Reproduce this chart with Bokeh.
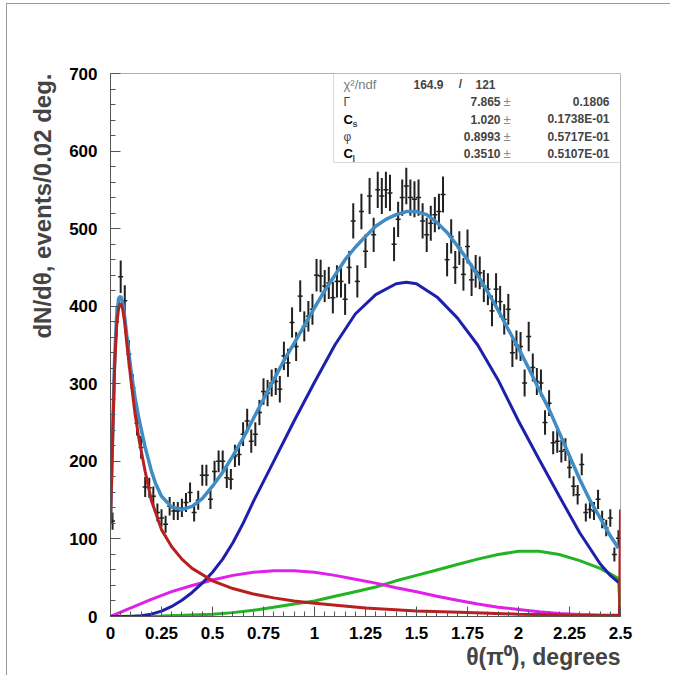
import numpy as np
from bokeh.plotting import figure
from bokeh.models import (ColumnDataSource, FixedTicker, Title, BoxAnnotation,
                          Label, Range1d)
from bokeh.embed import file_html
from bokeh.resources import INLINE

# ---------------- data ----------------
bin_width = 0.02
counts = [123, 380, 438, 407, 338, 295, 249, 218, 167, 166,
          155, 134, 127, 119, 142, 136, 136, 140, 147, 160,
          134, 150, 182, 182, 151, 187, 200, 200, 179, 177,
          207, 209, 235, 252, 226, 235, 263, 290, 288, 301,
          303, 293, 336, 327, 379, 348, 413, 374, 387, 396,
          440, 439, 426, 430, 411, 432, 432, 409, 450, 510,
          432, 522, 471, 542, 492, 550, 542, 550, 546, 480,
          512, 540, 555, 540, 538, 540, 510, 492, 507, 518,
          522, 544, 460, 490, 450, 475, 441, 477, 434, 445,
          443, 426, 422, 394, 422, 406, 383, 396, 340, 350,
          348, 301, 361, 321, 303, 301, 250, 275, 224, 226,
          213, 215, 192, 168, 157, 196, 134, 138, 136, 151,
          125, 114, 127, 80, 101]
theta = [round(bin_width / 2 + bin_width * i, 3) for i in range(len(counts))]
errors = np.sqrt(np.array(counts, dtype=float))  # Poisson error bars of the histogram

total_x = [0, 0.01, 0.02, 0.03, 0.04, 0.05, 0.06, 0.07, 0.08, 0.1, 0.12, 0.14, 0.17, 0.2,
           0.22, 0.25, 0.3, 0.35, 0.4, 0.45, 0.5, 0.55, 0.6, 0.65, 0.7, 0.75, 0.8, 0.85,
           0.9, 0.95, 1.0, 1.05, 1.1, 1.15, 1.2, 1.25, 1.3, 1.35, 1.4, 1.45, 1.5, 1.55,
           1.6, 1.65, 1.7, 1.75, 1.8, 1.85, 1.9, 1.95, 2.0, 2.05, 2.1, 2.15, 2.2, 2.25,
           2.3, 2.35, 2.4, 2.45, 2.49]
total_y = [125, 230, 330, 386, 410, 413, 404, 385, 362, 318, 283, 254, 218, 188,
           172, 155, 141, 138, 142, 152, 168, 186, 207, 230, 255, 280, 305, 330,
           352, 375, 398, 420, 440, 460, 476, 490, 503, 512, 518, 522, 522, 518,
           508, 495, 478, 460, 440, 418, 395, 370, 346, 320, 293, 267, 237, 207,
           177, 150, 127, 104, 88]

red_x = [0, 0.01, 0.02, 0.03, 0.04, 0.05, 0.06, 0.07, 0.08, 0.1, 0.12, 0.14, 0.17, 0.2,
         0.25, 0.3, 0.35, 0.4, 0.5, 0.6, 0.7, 0.8, 0.9, 1.0, 1.25, 1.5, 1.75, 2.0,
         2.25, 2.495, 2.5]
red_y = [120, 225, 320, 375, 398, 404, 396, 378, 352, 305, 262, 228, 187, 150,
         112, 90, 74, 62, 46, 36, 29, 24, 20, 17, 11, 7, 5, 3, 2, 1.5, 138]

blue_x = [0, 0.1, 0.15, 0.2, 0.25, 0.3, 0.35, 0.4, 0.45, 0.5, 0.55, 0.6, 0.65, 0.7,
          0.8, 0.9, 1.0, 1.1, 1.2, 1.3, 1.4, 1.45, 1.5, 1.6, 1.7, 1.8, 1.9, 2.0,
          2.1, 2.2, 2.3, 2.4, 2.45, 2.49]
blue_y = [0, 0, 1, 3, 7, 13, 21, 31, 43, 57, 74, 95, 120, 148,
          200, 252, 302, 350, 390, 415, 429, 431, 429, 412, 385, 350, 305, 252,
          203, 155, 108, 68, 53, 44]

magenta_x = [0, 0.1, 0.2, 0.3, 0.4, 0.5, 0.6, 0.7, 0.8, 0.9, 1.0, 1.1, 1.2, 1.3,
             1.4, 1.5, 1.6, 1.7, 1.8, 1.9, 2.0, 2.1, 2.2, 2.3, 2.4, 2.5]
magenta_y = [0, 11, 22, 32, 40, 47, 53, 57, 59, 59, 57, 53, 48, 43,
             37, 32, 26, 21, 16, 12, 9, 6, 4, 2.5, 1.5, 1]

green_x = [0, 0.25, 0.5, 0.6, 0.7, 0.8, 0.9, 1.0, 1.1, 1.2, 1.3, 1.4, 1.5, 1.6,
           1.7, 1.8, 1.9, 2.0, 2.1, 2.2, 2.3, 2.4, 2.45, 2.49, 2.5]
green_y = [0, 0.5, 3, 5, 8, 12, 16, 20, 26, 32, 38, 46, 53, 60,
           67, 74, 80, 84, 84, 80, 72, 62, 55, 49, 0]

x_ticks = [0, 0.25, 0.5, 0.75, 1.0, 1.25, 1.5, 1.75, 2.0, 2.25, 2.5]
x_tick_labels = ["0", "0.25", "0.5", "0.75", "1", "1.25", "1.5", "1.75", "2", "2.25", "2.5"]
y_ticks = [0, 100, 200, 300, 400, 500, 600, 700]
y_tick_labels = ["0", "100", "200", "300", "400", "500", "600", "700"]

stat_names = ["Γ", "C", "φ", "C"]
stat_subs = ["", "s", "", "l"]
stat_values = ["7.865", "1.020", "0.8993", "0.3510"]
stat_errors = ["0.1806", "0.1738E-01", "0.5717E-01", "0.5107E-01"]
chi2_text, ndf_text = "164.9", "121"

# ---------------- figure ----------------
FONT = "Liberation Sans"
p = figure(width=664, height=672, x_range=Range1d(0, 2.5), y_range=Range1d(0, 700),
           min_border_left=103, min_border_right=51, min_border_top=69, min_border_bottom=60,
           output_backend="svg", toolbar_location=None)
p.styles = {"margin-left": "6px", "margin-top": "3px",
            "border-top": "1px solid #9a9a9a", "border-left": "1px solid #9a9a9a"}
p.xgrid.visible = False
p.ygrid.visible = False
p.outline_line_color = "#b0b0b0"
p.outline_line_width = 1
p.background_fill_color = "white"
p.border_fill_color = "white"

minor_x = [round(0.05 * i, 2) for i in range(51)]
minor_y = [20 * i for i in range(36)]
p.xaxis.ticker = FixedTicker(ticks=x_ticks, minor_ticks=minor_x)
p.yaxis.ticker = FixedTicker(ticks=y_ticks, minor_ticks=minor_y)
p.xaxis.major_label_overrides = {t: l for t, l in zip(x_ticks, x_tick_labels)}
p.yaxis.major_label_overrides = {t: l for t, l in zip(y_ticks, y_tick_labels)}

for ax in (p.xaxis[0], p.yaxis[0]):
    ax.axis_line_color = "#555555"
    ax.major_tick_line_color = "#555555"
    ax.minor_tick_line_color = "#555555"
    ax.major_tick_in = 10
    ax.major_tick_out = 0
    ax.minor_tick_in = 5
    ax.minor_tick_out = 0
    ax.major_label_text_font = FONT
    ax.major_label_text_font_style = "bold"
    ax.major_label_text_font_size = "17px"
    ax.major_label_text_color = "black"
p.xaxis.major_label_standoff = 10
p.yaxis.major_label_standoff = 13

ytitle = Title(text="dN/dθ, events/0.02 deg.", align="right", text_font=FONT,
               text_font_size="24px", text_font_style="bold", standoff=21)
p.add_layout(ytitle, "left")
xtitle = Title(text="θ(π⁰), degrees", align="right", text_font=FONT,
               text_font_size="23px", text_font_style="bold", standoff=0)
p.add_layout(xtitle, "below")

# ---------------- data points ----------------
cnt = np.array(counts, dtype=float)
src = ColumnDataSource(dict(x=theta, y=cnt, lo=cnt - errors, hi=cnt + errors))
p.segment(x0="x", y0="lo", x1="x", y1="hi", source=src, line_color="#202020", line_width=2)
p.scatter(x="x", y="y", source=src, marker="dash", size=5, line_color="#202020", line_width=1.5)

# ---------------- fit curves ----------------
p.line(total_x, total_y, line_color="#3f8dc4", line_width=3.5)
p.line(green_x, green_y, line_color="#22b422", line_width=3)
p.line(magenta_x, magenta_y, line_color="#e020e8", line_width=3)
p.line(blue_x, blue_y, line_color="#1f1fae", line_width=3)
p.line(red_x, red_y, line_color="#b82020", line_width=3)

# ---------------- statistics box ----------------
def px_to_x(px):
    return (px - 110) / 204.0

def py_to_y(py):
    return (617 - py) / (543.0 / 700.0)

p.add_layout(BoxAnnotation(left=px_to_x(333), right=2.5, bottom=py_to_y(163), top=700,
                           fill_color="white", fill_alpha=1.0,
                           line_color="#808080", line_width=1))

row_py = [102, 119.5, 137, 154]
p.add_layout(Label(x=px_to_x(343), y=py_to_y(84.5), text="χ²/ndf", text_font=FONT,
                   text_font_size="13px", text_color="#7a7a7a", text_baseline="middle"))
p.add_layout(Label(x=px_to_x(413), y=py_to_y(84.5), text=chi2_text, text_font=FONT,
                   text_font_size="12px", text_font_style="bold", text_baseline="middle"))
p.add_layout(Label(x=px_to_x(460), y=py_to_y(84.5), text="/", text_font=FONT,
                   text_font_size="12px", text_font_style="bold", text_baseline="middle",
                   text_align="center"))
p.add_layout(Label(x=px_to_x(475), y=py_to_y(84.5), text=ndf_text, text_font=FONT,
                   text_font_size="12px", text_font_style="bold", text_baseline="middle"))

for ry, nm, sb, val, er in zip(row_py, stat_names, stat_subs, stat_values, stat_errors):
    bold = sb != ""
    p.add_layout(Label(x=px_to_x(343), y=py_to_y(ry), text=nm, text_font=FONT,
                       text_font_size="13px" if bold else "12px",
                       text_font_style="bold" if bold else "normal",
                       text_color="black" if bold else "#444444", text_baseline="middle"))
    if sb:
        p.add_layout(Label(x=px_to_x(352), y=py_to_y(ry + 5), text=sb, text_font=FONT,
                           text_font_size="9px", text_font_style="bold",
                           text_baseline="middle"))
    p.add_layout(Label(x=px_to_x(500), y=py_to_y(ry), text=val, text_font=FONT,
                       text_font_size="12px", text_font_style="bold",
                       text_baseline="middle", text_align="right"))
    p.add_layout(Label(x=px_to_x(506.5), y=py_to_y(ry), text="±", text_font=FONT,
                       text_font_size="13px", text_color="#8a8a8a",
                       text_baseline="middle", text_align="center"))
    p.add_layout(Label(x=px_to_x(609), y=py_to_y(ry), text=er, text_font=FONT,
                       text_font_size="12px", text_font_style="bold",
                       text_baseline="middle", text_align="right"))

open("out.html", "w").write(file_html(p, INLINE))
